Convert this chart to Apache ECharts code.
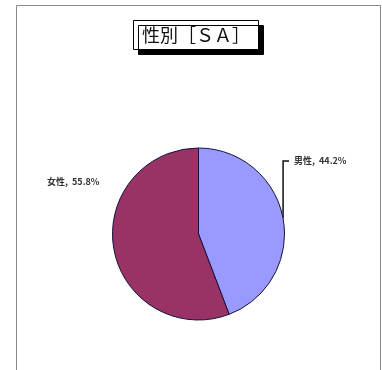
<!DOCTYPE html>
<html>
<head>
<meta charset="utf-8">
<script src="https://cdn.jsdelivr.net/npm/echarts@6/dist/echarts.min.js"></script>
<style>
  html, body { margin: 0; padding: 0; background: #fff; }
  #chart { width: 382px; height: 370px; }
</style>
</head>
<body>
<div id="chart"></div>
<script>
// Gender breakdown (single answer)
const titleText = '性別［ＳＡ］';
const categories = ['男性', '女性'];
const shares = [44.2, 55.8];
const sliceColors = ['#9999FF', '#993366'];

const labelFont = '"Noto Sans CJK JP", "Noto Sans", sans-serif';
const center = [198.5, 234];
const radius = 86;

const chart = echarts.init(document.getElementById('chart'), null, { renderer: 'canvas' });

chart.setOption({
  backgroundColor: '#fff',
  animation: false,
  graphic: [{
    type: 'rect',
    shape: { x: 16.5, y: 5.5, width: 364, height: 380 },
    style: { fill: 'none', stroke: '#8a8a8a', lineWidth: 1 },
    z: 0
  }],
  title: {
    text: titleText,
    left: 133,
    top: 20,
    padding: [4, 9, 4, 9],
    backgroundColor: '#fff',
    borderColor: '#000',
    borderWidth: 1,
    shadowColor: '#000',
    shadowBlur: 0,
    shadowOffsetX: 5,
    shadowOffsetY: 5,
    textStyle: {
      fontFamily: labelFont,
      fontSize: 18,
      fontWeight: 'normal',
      color: '#111',
      lineHeight: 22
    }
  },
  series: [{
    type: 'pie',
    center: center,
    radius: radius,
    startAngle: 90,
    clockwise: true,
    avoidLabelOverlap: false,
    data: categories.map((name, i) => ({
      name: name,
      value: shares[i],
      itemStyle: { color: sliceColors[i] },
      labelLine: { show: i === 0 }
    })),
    itemStyle: { borderColor: '#14143c', borderWidth: 1 },
    label: {
      show: true,
      position: 'outside',
      formatter: p => p.name + ',  ' + p.value.toFixed(1) + '%',
      fontFamily: labelFont,
      fontSize: 9,
      fontWeight: 'bold',
      color: '#333'
    },
    labelLine: {
      show: true,
      length: 10,
      length2: 10,
      lineStyle: { color: '#111', width: 1.5 }
    },
    labelLayout: function (params) {
      if (params.dataIndex === 0) {
        const lx = 294, ly = 161;
        const edge = params.labelLinePoints ? params.labelLinePoints[0] : [center[0] + radius, ly];
        return {
          x: lx, y: ly, align: 'left', verticalAlign: 'middle',
          labelLinePoints: [edge, [edge[0], ly], [lx - 5, ly]]
        };
      }
      return { x: 47, y: 182, align: 'left', verticalAlign: 'middle' };
    }
  }]
});
</script>
</body>
</html>
